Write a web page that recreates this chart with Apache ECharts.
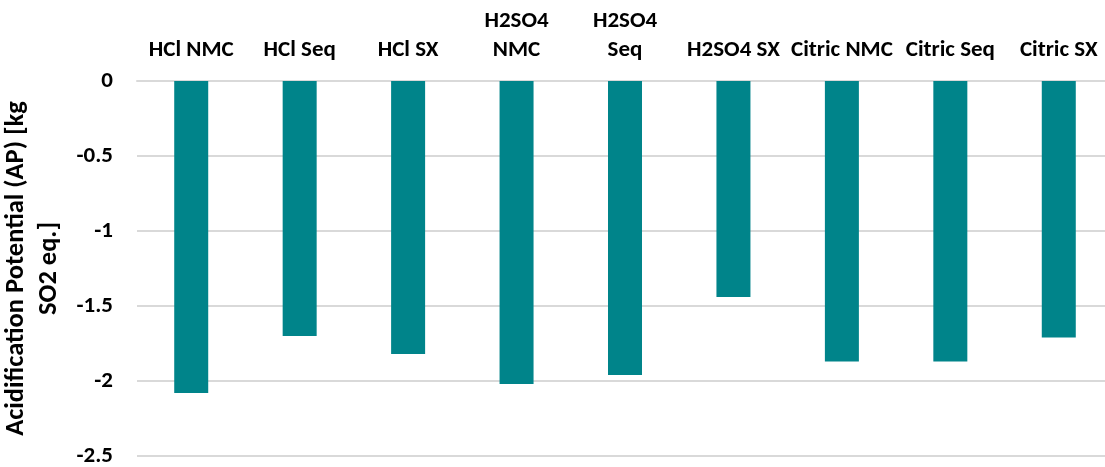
<!DOCTYPE html>
<html>
<head>
<meta charset="utf-8">
<script src="https://cdn.jsdelivr.net/npm/echarts@6/dist/echarts.min.js"></script>
<style>
  html, body { margin: 0; padding: 0; background: #ffffff; }
  #chart { width: 1105px; height: 467px; }
</style>
</head>
<body>
<div id="chart"></div>
<script>
// Process routes (categories along the top axis)
const categories = [
  'HCl NMC', 'HCl Seq', 'HCl SX',
  'H2SO4\nNMC', 'H2SO4\nSeq', 'H2SO4 SX',
  'Citric NMC', 'Citric Seq', 'Citric SX'
];

// Acidification potential per route, kg SO2 eq.
const apValues = [-2.08, -1.70, -1.82, -2.02, -1.96, -1.44, -1.87, -1.87, -1.71];

// Value axis range and step
const yMin = -2.5;
const yMax = 0;
const yStep = 0.5;

const axisTitle = 'Acidification Potential (AP) [kg\nSO2 eq.]';

const FONT = "Carlito, Calibri, Lato, sans-serif";
const TEAL = '#00848A';
const GRID_GREY = '#D9D9D9';

const chart = echarts.init(document.getElementById('chart'), null, { renderer: 'canvas' });

chart.setOption({
  animation: false,
  backgroundColor: '#ffffff',
  grid: {
    left: 137, top: 81, width: 976, height: 375,
    outerBoundsMode: 'none',
    containLabel: false
  },
  xAxis: {
    type: 'category',
    data: categories,
    position: 'top',
    axisLine: { show: true, lineStyle: { color: GRID_GREY, width: 2 } },
    axisTick: { show: false },
    axisLabel: {
      interval: 0,
      color: '#000000',
      fontFamily: FONT,
      fontWeight: 'bold',
      fontSize: 23,
      lineHeight: 29,
      margin: 16
    }
  },
  yAxis: {
    type: 'value',
    min: yMin,
    max: yMax,
    interval: yStep,
    name: axisTitle,
    nameLocation: 'middle',
    nameRotate: 90,
    nameGap: 66,
    nameTextStyle: {
      color: '#000000',
      fontFamily: FONT,
      fontWeight: 'bold',
      fontSize: 26.5,
      lineHeight: 33,
      align: 'center'
    },
    axisLine: { show: false },
    axisTick: { show: false },
    axisLabel: {
      color: '#000000',
      fontFamily: FONT,
      fontWeight: 'bold',
      fontSize: 23,
      margin: 24
    },
    splitLine: { show: true, lineStyle: { color: GRID_GREY, width: 2 } }
  },
  series: [{
    type: 'bar',
    data: apValues,
    barWidth: 34,
    itemStyle: { color: TEAL },
    silent: true
  }]
});
</script>
</body>
</html>
